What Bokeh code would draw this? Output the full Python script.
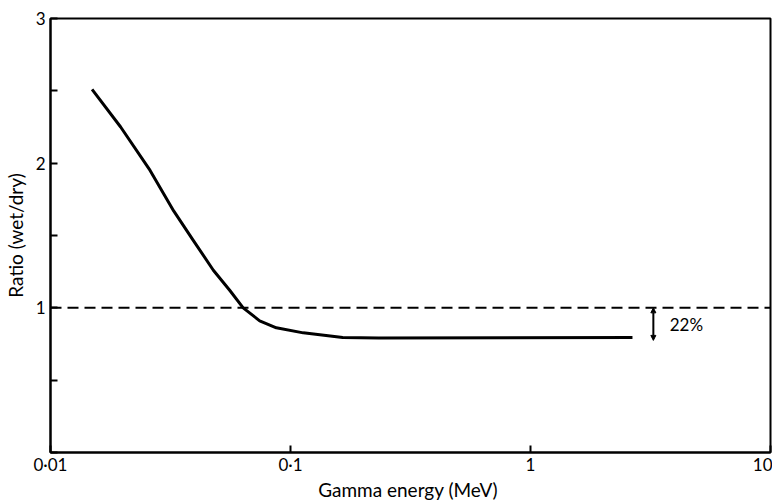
from bokeh.plotting import figure
from bokeh.models import FixedTicker, Span, Arrow, NormalHead, Label, Range1d
from bokeh.embed import file_html
from bokeh.resources import INLINE

# data
energy_mev = [0.0149, 0.0196, 0.0260, 0.0326, 0.0394, 0.0477, 0.0559, 0.0635,
              0.0744, 0.0873, 0.113, 0.165, 0.233, 2.66]
ratio_wet_dry = [2.51, 2.25, 1.95, 1.67, 1.465, 1.26, 1.12, 1.00,
                 0.91, 0.862, 0.827, 0.795, 0.792, 0.795]
reference_ratio = 1.0
drop_label = "22%"
drop_x = 3.25
drop_bottom = 0.775
x_ticks = [0.01, 0.1, 1, 10]
x_tick_labels = ["0·01", "0·1", "1", "10"]
y_ticks = [0, 0.5, 1, 1.5, 2, 2.5, 3]
y_tick_labels = ["", "", "1", "", "2", "", "3"]
y_title = "Ratio (wet/dry)"
x_title = "Gamma  energy (MeV)"

FONT = "Lato"

p = figure(frame_width=720, frame_height=434, x_axis_type="log",
           x_range=Range1d(0.01, 10), y_range=Range1d(0, 3),
           output_backend="svg", toolbar_location=None,
           min_border_left=45, min_border_right=2, min_border_top=18, min_border_bottom=0)
p.grid.visible = False
p.outline_line_color = "black"
p.outline_line_width = 2
p.background_fill_color = "white"
p.border_fill_color = "white"

for ax in (p.xaxis[0], p.yaxis[0]):
    ax.axis_line_width = 2
    ax.axis_line_color = "black"
    ax.major_tick_in = 7
    ax.major_tick_out = 0
    ax.major_tick_line_width = 2
    ax.minor_tick_in = 0
    ax.minor_tick_out = 0
    ax.major_label_text_font = FONT
    ax.major_label_text_font_size = "17px"
    ax.major_label_text_color = "black"
    ax.axis_label_text_font = FONT
    ax.axis_label_text_font_size = "19px"
    ax.axis_label_text_font_style = "normal"
    ax.axis_label_text_color = "black"

p.xaxis.ticker = FixedTicker(ticks=x_ticks, minor_ticks=[])
p.xaxis.major_label_overrides = {t: l for t, l in zip(x_ticks, x_tick_labels)}
p.xaxis.axis_label = x_title
p.xaxis.major_label_standoff = 1
p.xaxis.axis_label_standoff = 0

p.yaxis.ticker = FixedTicker(ticks=y_ticks, minor_ticks=[])
p.yaxis.major_label_overrides = {t: l for t, l in zip(y_ticks, y_tick_labels)}
p.yaxis.axis_label = y_title
p.yaxis.major_label_standoff = 5
p.yaxis.axis_label_standoff = 6

p.add_layout(Span(location=reference_ratio, dimension="width", line_color="black",
                  line_width=2, line_dash="11 6"))

p.line(energy_mev, ratio_wet_dry, line_color="black", line_width=3, line_join="round")

p.add_layout(Arrow(x_start=drop_x, y_start=reference_ratio, x_end=drop_x, y_end=drop_bottom,
                   line_width=2, line_color="black",
                   start=NormalHead(size=5, fill_color="black", line_color="black"),
                   end=NormalHead(size=5, fill_color="black", line_color="black")))

p.add_layout(Label(x=drop_x * 1.17, y=(reference_ratio + drop_bottom) / 2, text=drop_label,
                   text_font=FONT, text_font_size="17px", text_baseline="middle",
                   text_color="black"))

open("out.html", "w").write(file_html(p, INLINE))
